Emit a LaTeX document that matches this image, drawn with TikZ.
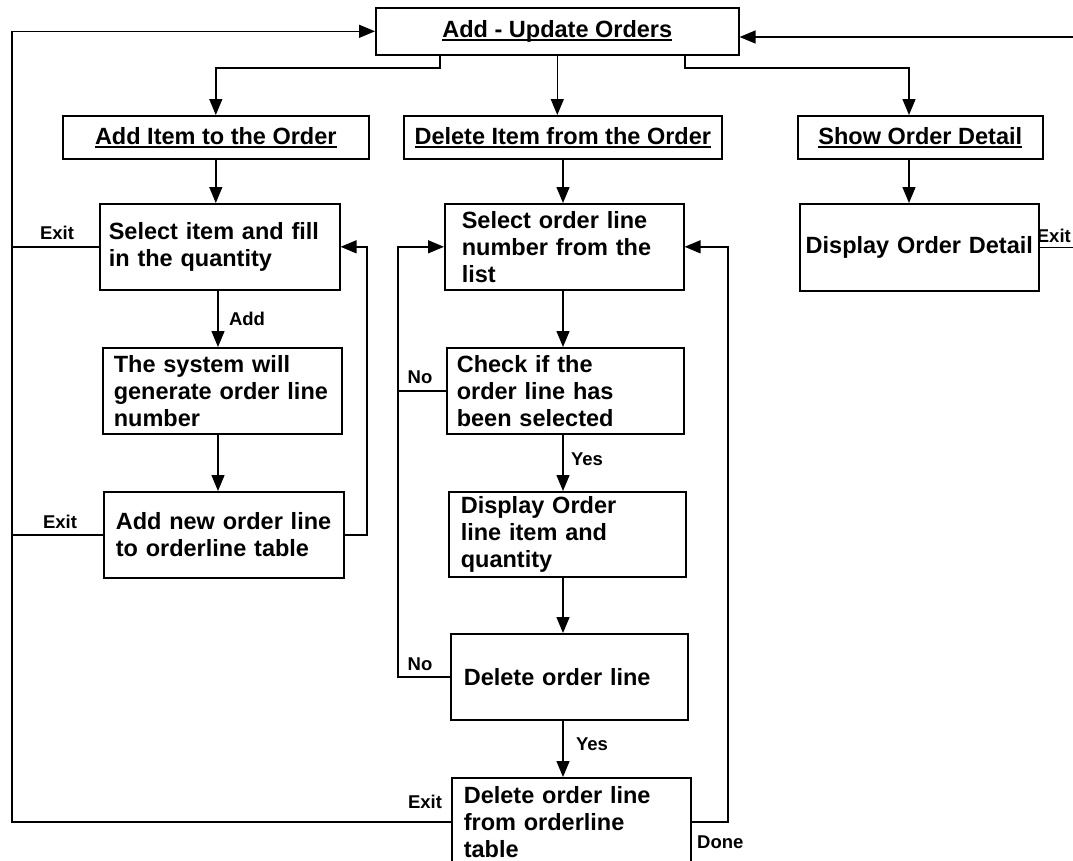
\documentclass[tikz,border=0pt]{standalone}
\usepackage{fontspec}
\setmainfont{Liberation Sans}
\usetikzlibrary{arrows.meta}

% underline drawn a fixed distance under the baseline
\newcommand\headul[1]{\setbox0\hbox{#1}\rlap{\rule[-3.5pt]{\wd0}{1.6pt}}\box0}
\newcommand\boxfont{\bfseries\fontsize{23.5}{27}\selectfont}
\newcommand\labfont{\bfseries\fontsize{18.5}{20}\selectfont}

\tikzset{
  head/.style={draw, line width=1.6pt, anchor=north west, inner sep=0pt,
    align=center, font=\boxfont},
  proc/.style={draw, line width=1.6pt, anchor=north west, inner ysep=0pt,
    align=left, font=\boxfont},
  lab/.style={font=\labfont, inner sep=0pt},
  link/.style={line width=1.4pt},
  arr/.style={link, -{Triangle[length=16pt,width=13pt]}}
}

\begin{document}
\begin{tikzpicture}[x=1pt,y=-1pt]
\fill[white] (0,0) rectangle (1073,860);
\useasboundingbox (0,0) rectangle (1073,860);

% main menu and its three branches
\node[head, minimum width=363pt, minimum height=47pt] (top) at (375,7) {\headul{Add - Update Orders}};
\node[head, minimum width=306pt, minimum height=43pt] (addh) at (62,115) {\headul{Add Item to the Order}};
\node[head, minimum width=318pt, minimum height=43pt] (delh) at (403,115) {\headul{Delete Item from the Order}};
\node[head, minimum width=245pt, minimum height=43pt] (showh) at (797,115) {\headul{Show Order Detail}};

% add item column
\node[proc, inner xsep=9pt, text width=222pt, minimum height=86pt] (selitem) at (99,203) {Select item and fill\\in the quantity};
\node[proc, inner xsep=11pt, text width=217pt, minimum height=86pt] (gen) at (102,347) {The system will\\generate order line\\number};
\node[proc, inner xsep=12pt, text width=216pt, minimum height=86pt] (addnew) at (103,491) {Add new order line\\to orderline table};

% delete item column
\node[proc, inner xsep=17pt, text width=205pt, minimum height=86pt] (selord) at (444,203) {Select order line\\number from the\\list};
\node[proc, inner xsep=10pt, text width=217pt, minimum height=86pt] (chk) at (446,347) {Check if the\\order line has\\been selected};
\node[proc, inner xsep=12pt, text width=213pt, minimum height=85pt] (dispol) at (448,491) {Display Order\\line item and\\quantity};
\node[proc, inner xsep=13pt, text width=211pt, minimum height=86pt] (delol) at (450,633) {Delete order line};
\node[proc, inner xsep=12pt, text width=215pt, minimum height=88pt] (fin) at (451,777) {Delete order line\\from orderline\\table};

% show detail column
\node[proc, align=center, inner xsep=4pt, text width=231pt, minimum height=87pt] (dispd) at (799,203) {Display Order Detail};

% helper coordinates for routed connectors
\coordinate (lx) at (12,0);
\coordinate (lcol) at (367,0);
\coordinate (lax) at (218,0);
\coordinate (mlx) at (398,0);
\coordinate (mrx) at (728,0);
\coordinate (mcx) at (563,0);
\coordinate (rb) at (909,68);
\coordinate (lb) at (440,68);
\coordinate (rin) at (1073,37);
\coordinate (rout) at (1073,0);

% from the menu to the three options
\draw[arr] (top.south -| lb) -- (lb) -| (addh.north);
\draw[arr] (top.south) -- (top.south |- delh.north);
\draw[arr] (top.south -| 685,0) -- (685,68) -- (rb) -- (rb |- showh.north);
\draw[arr] (rin) -- (rin -| top.east);

% add item flow
\draw[arr] (addh.south) -- (addh.south |- selitem.north);
\draw[arr] (selitem.south -| lax) -- (gen.north -| lax);
\draw[arr] (gen.south -| lax) -- (addnew.north -| lax);
\draw[arr] (addnew.east) -| (lcol |- selitem.east) -- (selitem.east);
\draw[link] (selitem.west) -- (selitem.west -| lx);
\draw[link] (addnew.west) -- (addnew.west -| lx);
\draw[arr] (fin.west) -| (lx |- top.west) -- (top.west);

% delete item flow
\draw[arr] (delh.south -| mcx) -- (selord.north -| mcx);
\draw[arr] (selord.south -| mcx) -- (chk.north -| mcx);
\draw[arr] (chk.south -| mcx) -- (dispol.north -| mcx);
\draw[arr] (dispol.south -| mcx) -- (delol.north -| mcx);
\draw[arr] (delol.south -| mcx) -- (fin.north -| mcx);
\draw[link] (chk.west) -- (chk.west -| mlx);
\draw[arr] (delol.west) -| (mlx |- selord.west) -- (selord.west);
\draw[arr] (fin.east) -| (mrx |- selord.east) -- (selord.east);

% show detail flow
\draw[arr] (rb |- showh.south) -- (rb |- dispd.north);
\draw[link] (dispd.east) -- (dispd.east -| rout);

% connector labels
\node[lab] (l1) at (57,233) {Exit};
\node[lab] (l2) at (247,319) {Add};
\node[lab] (l3) at (60,522) {Exit};
\node[lab] (l4) at (420,377) {No};
\node[lab] (l5) at (587,459) {Yes};
\node[lab] (l6) at (420,664) {No};
\node[lab] (l7) at (592,744) {Yes};
\node[lab] (l8) at (425,802) {Exit};
\node[lab, anchor=west] (l9) at (697,842) {Done};
\node[lab, anchor=east] (l10) at (1071,236) {Exit};
\end{tikzpicture}
\end{document}
